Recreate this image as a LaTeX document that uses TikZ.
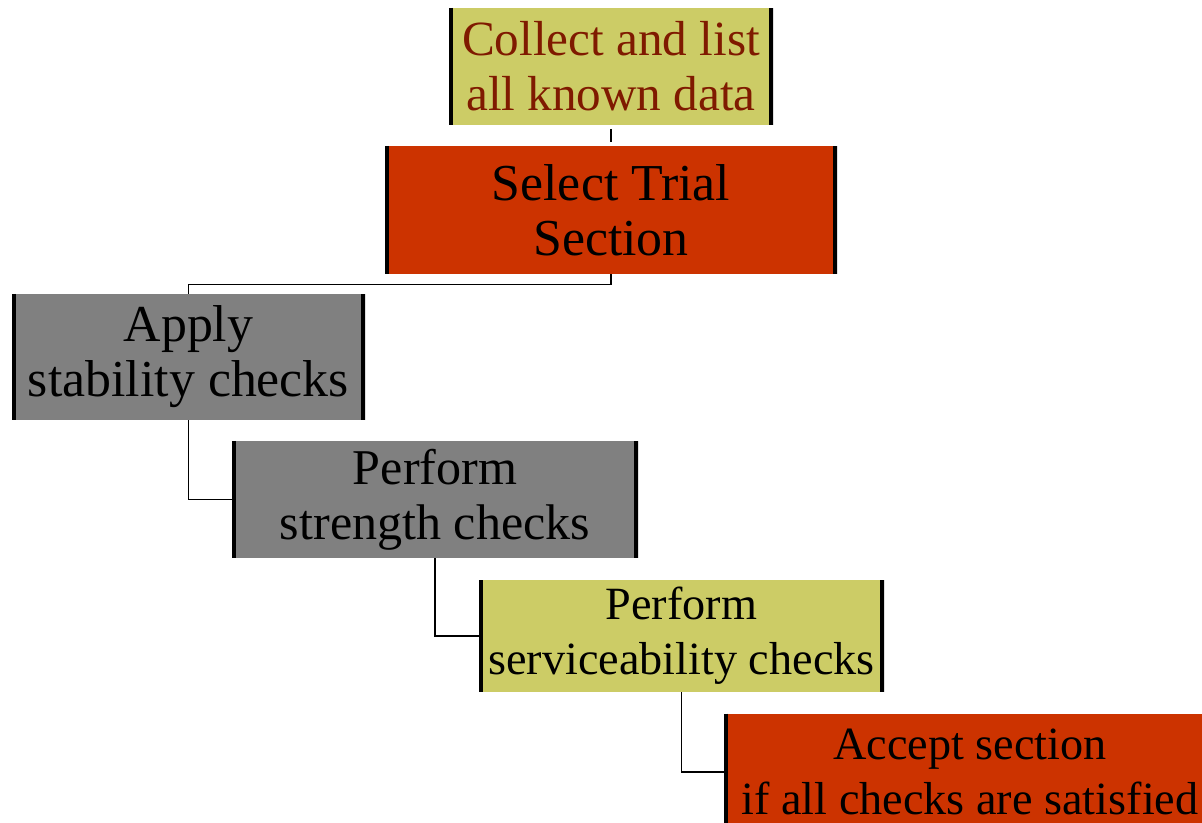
\documentclass[tikz,border=0pt]{standalone}
\usepackage{fontspec}
\setmainfont{Liberation Serif}
\usetikzlibrary{shapes,arrows}

\definecolor{olivebox}{HTML}{CCCC66}
\definecolor{redbox}{HTML}{CC3300}
\definecolor{graybox}{HTML}{808080}
\definecolor{darkred}{HTML}{7F1A00}

\tikzset{
  stepbox/.style={rectangle, align=center, inner sep=0pt,
    font=\fontsize{#1}{31.3}\selectfont,
    path picture={
      \draw[line width=0.16cm] (path picture bounding box.north west) -- (path picture bounding box.south west);
      \draw[line width=0.16cm] (path picture bounding box.north east) -- (path picture bounding box.south east);
    }},
  stepbox/.default=28,
  link/.style={draw, line width=0.8pt}
}

\begin{document}
\begin{tikzpicture}
        \useasboundingbox (0,0) rectangle (24.04,-16.46);

        \node at (12.22,-1.33) [stepbox, fill=olivebox, text=darkred, minimum width=6.48cm, minimum height=2.34cm] (collect) {Collect and list\\all known data};
        \node at (12.22,-4.20) [stepbox=29.5, fill=redbox, minimum width=9.04cm, minimum height=2.56cm] (trial) {Select Trial\\Section};
        \node at (3.77,-7.14) [stepbox=29.5, fill=graybox, minimum width=7.06cm, minimum height=2.52cm] (apply) {Apply\\stability checks};
        \node at (8.70,-9.99) [stepbox=28.5, fill=graybox, minimum width=8.12cm, minimum height=2.34cm] (strength) {Perform\\strength checks};
        \node at (13.63,-12.72) [stepbox=26.3, fill=olivebox, minimum width=8.10cm, minimum height=2.24cm] (service) {Perform\\serviceability checks};
        \node at (19.40,-15.44) [stepbox=26.3, fill=redbox, minimum width=9.84cm, minimum height=2.34cm] (accept) {Accept section\\if all checks are satisfied};

        \draw[link, shorten <=2pt, shorten >=2pt] (collect) -- (trial);
        \draw[link] (trial.south) -- ++(0,-0.2) -| (apply.north);
        \draw[link] (apply.south) |- (strength.west);
        \draw[link] (strength.south) |- (service.west);
        \draw[link] (service.south) |- (accept.west);
    \end{tikzpicture}
\end{document}
